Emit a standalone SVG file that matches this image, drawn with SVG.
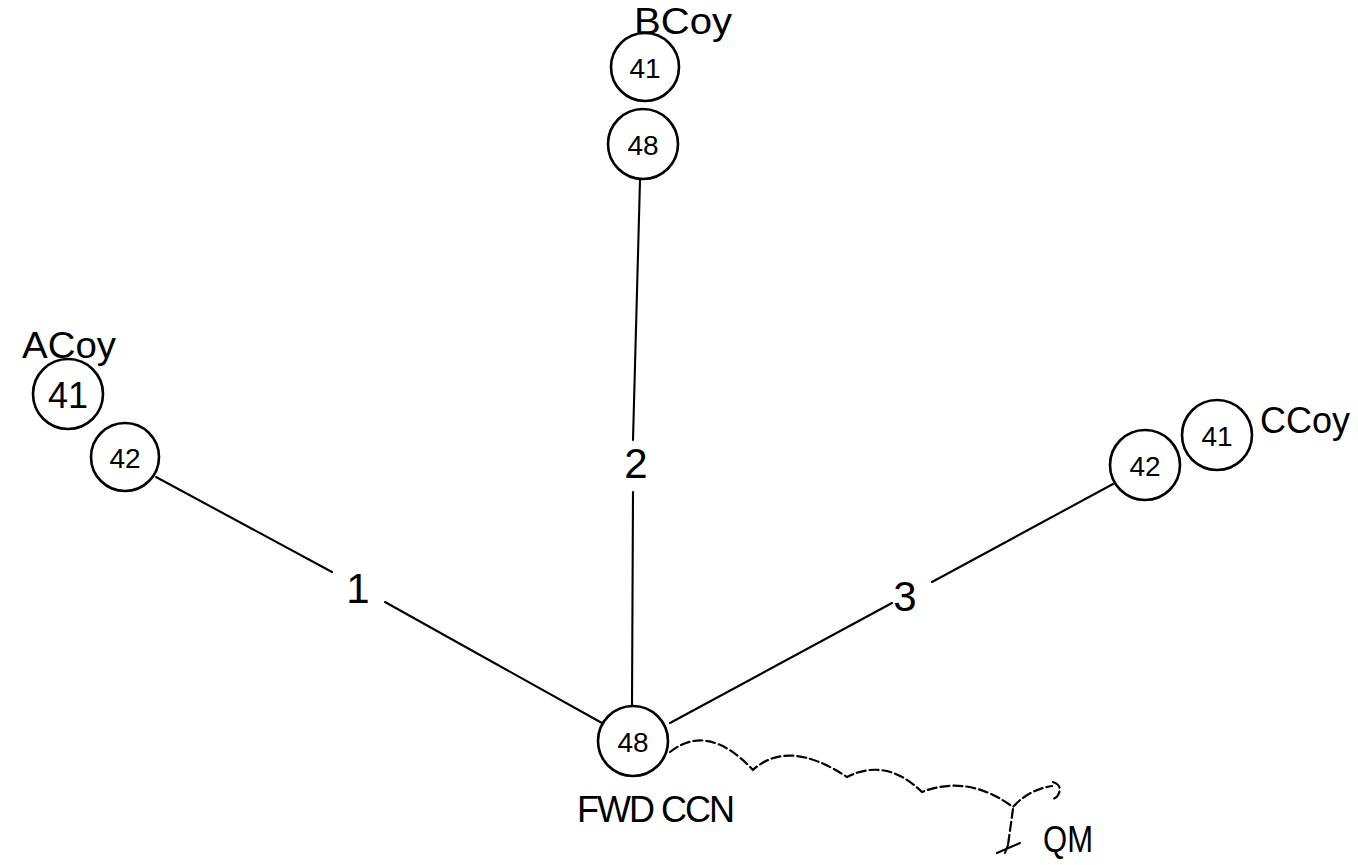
<svg xmlns="http://www.w3.org/2000/svg" width="1358" height="865" viewBox="0 0 1358 865">
<style>
.c{fill:none;stroke:#000;stroke-width:2.6}
.e{fill:none;stroke:#000;stroke-width:2.1;stroke-linecap:round}
.d{fill:none;stroke:#000;stroke-width:2.2;stroke-dasharray:9 4;stroke-linecap:round}
.t{font-family:"Liberation Sans",Arial,sans-serif;fill:#000;text-anchor:middle}
.n{font-size:28px}
.l{font-size:36px}
.el{font-size:42px;font-weight:300}
</style>
<rect width="1358" height="865" fill="#fff"/>
<g id="connectors">
  <line class="e" x1="156" y1="477" x2="332" y2="572"/>
  <line class="e" x1="385" y1="602" x2="602" y2="723"/>
  <text class="t el" x="358" y="603">1</text>
  <line class="e" x1="640" y1="180" x2="633" y2="440"/>
  <line class="e" x1="633" y1="492" x2="632" y2="706"/>
  <text class="t el" x="636" y="478">2</text>
  <line class="e" x1="1113" y1="484" x2="932" y2="582"/>
  <line class="e" x1="892" y1="603" x2="670" y2="723"/>
  <text class="t el" x="905" y="611">3</text>
  <path class="d" d="M670,752 Q708,722 753,770 Q788,738 847,777 Q886,757 922,792 Q968,774 1013,807 Q1028,790 1052,786"/>
  <path class="d" d="M1053,782 q9,3 6,11 q-2,6 -8,6"/>
  <path class="d" d="M1013,809 L1008,845"/>
  <path class="e" d="M997,853 L1020,843 M1008,845 L1005,853"/>
</g>
<g id="a-coy">
  <text class="t l" x="69" y="358" textLength="94" lengthAdjust="spacingAndGlyphs">ACoy</text>
  <circle class="c" cx="68" cy="394" r="35"/>
  <text class="t" x="68" y="408" style="font-size:36px">41</text>
</g>
<g id="a-42">
  <circle class="c" cx="125" cy="457" r="34"/>
  <text class="t n" x="125" y="468">42</text>
</g>
<g id="b-coy">
  <text class="t l" x="683" y="34" textLength="98" lengthAdjust="spacingAndGlyphs">BCoy</text>
  <circle class="c" cx="645" cy="67" r="34"/>
  <text class="t n" x="645" y="78">41</text>
</g>
<g id="b-48">
  <circle class="c" cx="643" cy="144" r="35"/>
  <text class="t n" x="643" y="155">48</text>
</g>
<g id="c-coy">
  <circle class="c" cx="1217" cy="435" r="35"/>
  <text class="t n" x="1217" y="446">41</text>
  <text class="t l" x="1305" y="433" textLength="90" lengthAdjust="spacingAndGlyphs">CCoy</text>
</g>
<g id="c-42">
  <circle class="c" cx="1145" cy="465" r="35"/>
  <text class="t n" x="1145" y="476">42</text>
</g>
<g id="fwd">
  <circle class="c" cx="633" cy="741" r="35"/>
  <text class="t n" x="633" y="752">48</text>
  <text class="t" x="656" y="822" style="font-size:36px" textLength="158" lengthAdjust="spacing">FWD CCN</text>
</g>
<g id="qm">
  <text class="t" x="1068" y="852" style="font-size:36px" textLength="50" lengthAdjust="spacingAndGlyphs">QM</text>
</g>
</svg>
